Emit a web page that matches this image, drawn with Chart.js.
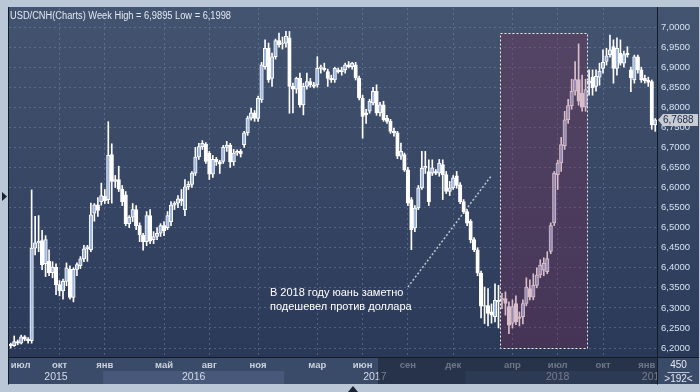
<!DOCTYPE html>
<html>
<head>
<meta charset="utf-8">
<script src="https://cdn.jsdelivr.net/npm/chart.js@4.4.0/dist/chart.umd.min.js"></script>
<style>
html, body { margin: 0; padding: 0; background: #bac7d6; }
#wrap { width: 700px; height: 392px; }
</style>
</head>
<body>
<div id="wrap"><canvas id="fxChart" width="700" height="392"></canvas></div>
<script>
// USD/CNH, weekly candles, first week starts 29.06.2015
const firstWeek = [2015, 5, 29];

const opens = [
  6.209, 6.206, 6.216, 6.212, 6.228, 6.222, 6.218, 6.449, 6.462, 6.468,
  6.410, 6.416, 6.388, 6.402, 6.358, 6.342, 6.366, 6.396, 6.326, 6.396,
  6.405, 6.422, 6.447, 6.445, 6.536, 6.557, 6.565, 6.578, 6.570, 6.682,
  6.615, 6.620, 6.596, 6.582, 6.510, 6.526, 6.545, 6.505, 6.481, 6.465,
  6.530, 6.470, 6.478, 6.486, 6.505, 6.500, 6.515, 6.556, 6.561, 6.572,
  6.545, 6.602, 6.608, 6.636, 6.676, 6.702, 6.708, 6.685, 6.633, 6.670,
  6.664, 6.665, 6.700, 6.706, 6.664, 6.686, 6.690, 6.707, 6.736, 6.773,
  6.786, 6.772, 6.818, 6.901, 6.947, 6.872, 6.926, 6.966, 6.958, 6.960,
  6.973, 6.852, 6.845, 6.872, 6.806, 6.852, 6.864, 6.856, 6.856, 6.897,
  6.897, 6.889, 6.872, 6.868, 6.893, 6.889, 6.893, 6.906, 6.901, 6.906,
  6.873, 6.823, 6.786, 6.790, 6.811, 6.840, 6.786, 6.806, 6.773, 6.765,
  6.740, 6.736, 6.678, 6.682, 6.644, 6.570, 6.499, 6.549, 6.599, 6.648,
  6.640, 6.636, 6.640, 6.636, 6.657, 6.632, 6.590, 6.599, 6.629, 6.607,
  6.565, 6.540, 6.516, 6.470, 6.445, 6.387, 6.304, 6.306, 6.290, 6.278,
  6.315, 6.319, 6.323, 6.303, 6.261, 6.311, 6.278, 6.278, 6.311, 6.348,
  6.327, 6.356, 6.382, 6.394, 6.390, 6.441, 6.512, 6.632, 6.661, 6.704,
  6.769, 6.804, 6.840, 6.869, 6.835, 6.801, 6.860, 6.875, 6.852, 6.875,
  6.897, 6.914, 6.931, 6.951, 6.897, 6.935, 6.910, 6.935, 6.893, 6.868,
  6.926, 6.893, 6.872, 6.868, 6.864, 6.756
];
const highs = [
  6.212, 6.230, 6.220, 6.232, 6.231, 6.226, 6.594, 6.528, 6.530, 6.493,
  6.480, 6.445, 6.415, 6.410, 6.368, 6.372, 6.412, 6.405, 6.400, 6.412,
  6.428, 6.456, 6.456, 6.561, 6.560, 6.575, 6.611, 6.595, 6.764, 6.709,
  6.630, 6.653, 6.605, 6.590, 6.530, 6.560, 6.555, 6.512, 6.486, 6.540,
  6.545, 6.490, 6.500, 6.510, 6.515, 6.540, 6.565, 6.565, 6.580, 6.595,
  6.620, 6.615, 6.640, 6.700, 6.710, 6.717, 6.712, 6.690, 6.680, 6.675,
  6.668, 6.705, 6.715, 6.710, 6.695, 6.694, 6.695, 6.740, 6.778, 6.798,
  6.792, 6.828, 6.912, 6.968, 6.960, 6.935, 6.970, 6.985, 6.975, 6.9895,
  6.989, 6.860, 6.875, 6.885, 6.860, 6.885, 6.872, 6.862, 6.926, 6.905,
  6.910, 6.895, 6.880, 6.900, 6.898, 6.900, 6.910, 6.914, 6.912, 6.912,
  6.878, 6.830, 6.795, 6.820, 6.850, 6.856, 6.812, 6.815, 6.780, 6.770,
  6.748, 6.740, 6.711, 6.686, 6.650, 6.575, 6.555, 6.605, 6.690, 6.690,
  6.669, 6.669, 6.645, 6.670, 6.669, 6.640, 6.615, 6.630, 6.640, 6.612,
  6.570, 6.545, 6.520, 6.475, 6.450, 6.392, 6.352, 6.348, 6.310, 6.360,
  6.356, 6.336, 6.340, 6.315, 6.320, 6.330, 6.290, 6.320, 6.375, 6.370,
  6.385, 6.400, 6.420, 6.425, 6.440, 6.512, 6.640, 6.668, 6.725, 6.790,
  6.820, 6.870, 6.914, 6.958, 6.880, 6.870, 6.893, 6.893, 6.893, 6.910,
  6.943, 6.947, 6.980, 6.968, 6.973, 6.968, 6.940, 6.951, 6.900, 6.930,
  6.930, 6.900, 6.880, 6.875, 6.868, 6.772
];
const lows = [
  6.1998, 6.204, 6.208, 6.210, 6.218, 6.212, 6.212, 6.432, 6.440, 6.395,
  6.378, 6.380, 6.375, 6.333, 6.330, 6.322, 6.355, 6.322, 6.315, 6.380,
  6.398, 6.415, 6.416, 6.440, 6.516, 6.528, 6.556, 6.560, 6.560, 6.561,
  6.600, 6.590, 6.555, 6.505, 6.500, 6.515, 6.495, 6.465, 6.444, 6.455,
  6.460, 6.460, 6.470, 6.478, 6.480, 6.495, 6.505, 6.545, 6.550, 6.555,
  6.530, 6.595, 6.600, 6.630, 6.670, 6.695, 6.660, 6.620, 6.625, 6.655,
  6.635, 6.660, 6.690, 6.650, 6.655, 6.680, 6.676, 6.700, 6.730, 6.768,
  6.765, 6.765, 6.812, 6.895, 6.862, 6.852, 6.920, 6.950, 6.945, 6.950,
  6.785, 6.786, 6.835, 6.800, 6.781, 6.845, 6.850, 6.848, 6.850, 6.885,
  6.890, 6.852, 6.862, 6.862, 6.885, 6.880, 6.885, 6.898, 6.895, 6.868,
  6.818, 6.723, 6.760, 6.785, 6.806, 6.780, 6.778, 6.765, 6.760, 6.735,
  6.728, 6.672, 6.670, 6.640, 6.555, 6.445, 6.490, 6.545, 6.595, 6.635,
  6.555, 6.630, 6.632, 6.628, 6.570, 6.585, 6.580, 6.595, 6.598, 6.560,
  6.535, 6.505, 6.462, 6.440, 6.380, 6.275, 6.261, 6.255, 6.262, 6.265,
  6.250, 6.298, 6.282, 6.236, 6.250, 6.258, 6.255, 6.260, 6.305, 6.320,
  6.320, 6.350, 6.375, 6.380, 6.385, 6.435, 6.505, 6.595, 6.640, 6.695,
  6.760, 6.795, 6.830, 6.805, 6.790, 6.790, 6.830, 6.830, 6.840, 6.855,
  6.885, 6.905, 6.925, 6.860, 6.880, 6.905, 6.900, 6.925, 6.839, 6.860,
  6.885, 6.862, 6.860, 6.852, 6.745, 6.740
];
const closes = [
  6.206, 6.216, 6.212, 6.228, 6.222, 6.218, 6.449, 6.462, 6.466, 6.408,
  6.470, 6.388, 6.402, 6.358, 6.342, 6.366, 6.400, 6.326, 6.396, 6.408,
  6.422, 6.447, 6.452, 6.532, 6.557, 6.543, 6.580, 6.567, 6.680, 6.615,
  6.620, 6.596, 6.565, 6.510, 6.526, 6.545, 6.505, 6.482, 6.465, 6.530,
  6.466, 6.478, 6.486, 6.505, 6.492, 6.530, 6.556, 6.561, 6.572, 6.566,
  6.602, 6.608, 6.636, 6.676, 6.702, 6.710, 6.665, 6.633, 6.670, 6.664,
  6.658, 6.700, 6.706, 6.664, 6.686, 6.690, 6.684, 6.736, 6.773, 6.786,
  6.772, 6.822, 6.906, 6.947, 6.868, 6.926, 6.966, 6.956, 6.960, 6.977,
  6.852, 6.845, 6.872, 6.806, 6.852, 6.864, 6.856, 6.852, 6.897, 6.901,
  6.893, 6.872, 6.868, 6.897, 6.889, 6.893, 6.906, 6.901, 6.910, 6.873,
  6.823, 6.777, 6.781, 6.815, 6.840, 6.786, 6.806, 6.769, 6.765, 6.740,
  6.736, 6.678, 6.690, 6.644, 6.561, 6.495, 6.549, 6.599, 6.648, 6.653,
  6.565, 6.649, 6.636, 6.661, 6.632, 6.590, 6.599, 6.624, 6.605, 6.565,
  6.540, 6.511, 6.470, 6.445, 6.387, 6.304, 6.306, 6.286, 6.282, 6.319,
  6.319, 6.323, 6.311, 6.257, 6.303, 6.265, 6.274, 6.311, 6.352, 6.327,
  6.356, 6.382, 6.407, 6.411, 6.423, 6.505, 6.636, 6.661, 6.707, 6.769,
  6.804, 6.840, 6.869, 6.815, 6.800, 6.844, 6.865, 6.848, 6.877, 6.890,
  6.912, 6.928, 6.943, 6.897, 6.947, 6.910, 6.931, 6.931, 6.873, 6.926,
  6.893, 6.868, 6.866, 6.862, 6.756, 6.7688
];

const monthNames = ['янв', 'фев', 'мар', 'апр', 'май', 'июн', 'июл', 'авг', 'сен', 'окт', 'ноя', 'дек'];
const shownMonths = ['2015-07', '2015-10', '2016-01', '2016-05', '2016-08', '2016-11', '2017-03',
                     '2017-06', '2017-09', '2017-12', '2018-04', '2018-07', '2018-10', '2019-01'];
const yTickValues = [6.20, 6.25, 6.30, 6.35, 6.40, 6.45, 6.50, 6.55, 6.60, 6.65,
                     6.70, 6.75, 6.80, 6.85, 6.90, 6.95, 7.00];
const yRange = [6.1776, 7.0474];

// выделенный период и подпись (в координатах данных: номер недели, курс)
const boxWeeks = [140.5, 165.5];
const boxRates = [6.2, 6.985];
const noteLine = [[114, 6.352], [138.1, 6.631]];
const noteAt = [74.4, 6.337];
const noteText = ['В 2018 году юань заметно', 'подешевел против доллара'];
const counterText = ['450', '>192<'];

const FONT = 'Liberation Sans, Arial, sans-serif';

const weeks = opens.map((_, i) => new Date(Date.UTC(firstWeek[0], firstWeek[1], firstWeek[2] + 7 * i)));
const labels = weeks.map(d => d.toISOString().slice(0, 10));
const lastIdx = weeks.length - 1;
const monthLabelAt = {};
weeks.forEach((d, i) => {
  if (d.getUTCDate() <= 7 && shownMonths.includes(labels[i].slice(0, 7))) {
    // подписи у краёв прижимаются к краю шкалы
    const at = i <= 1 ? 0 : (i >= lastIdx - 1 ? lastIdx : i);
    monthLabelAt[at] = monthNames[d.getUTCMonth()];
  }
});
const fmt = v => v.toFixed(4).replace('.', ',');

const gridColor = 'rgba(125,145,182,0.45)';

const panelPlugin = {
  id: 'panel',
  beforeDraw(chart) {
    const { ctx, chartArea: a, scales: { x } } = chart;
    ctx.save();
    ctx.fillStyle = '#bac7d6';
    ctx.fillRect(0, 0, chart.width, chart.height);
    const g = ctx.createLinearGradient(0, a.top, 0, a.bottom);
    g.addColorStop(0, '#435470');
    g.addColorStop(1, '#2b3958');
    ctx.fillStyle = g;
    ctx.fillRect(a.left - 1, a.top - 1, chart.width - a.left, a.bottom - a.top + 1);
    ctx.fillStyle = '#3a4a69';
    ctx.fillRect(a.left - 1, a.bottom, chart.width - a.left, x.bottom - a.bottom);
    // светлые полосы для чётных лет
    const half = (x.getPixelForValue(1) - x.getPixelForValue(0)) / 2;
    const years = [...new Set(weeks.map(d => d.getUTCFullYear()))];
    years.forEach(yr => {
      if (yr % 2) return;
      const idx = weeks.map((d, i) => d.getUTCFullYear() === yr ? i : -1).filter(i => i >= 0);
      const x0 = x.getPixelForValue(idx[0]) - half;
      const x1 = Math.min(x.getPixelForValue(idx[idx.length - 1]) + half, a.right);
      ctx.fillStyle = '#47587a';
      ctx.fillRect(x0, a.bottom + 14, x1 - x0, x.bottom - a.bottom - 14);
    });
    ctx.restore();
  },
  afterDatasetsDraw(chart) {
    const { ctx, scales: { x, y } } = chart;
    ctx.save();
    const bx0 = x.getPixelForValue(boxWeeks[0]), bx1 = x.getPixelForValue(boxWeeks[1]);
    const by0 = y.getPixelForValue(boxRates[1]), by1 = y.getPixelForValue(boxRates[0]);
    ctx.fillStyle = 'rgba(130,40,80,0.30)';
    ctx.fillRect(bx0, by0, bx1 - bx0, by1 - by0);
    ctx.strokeStyle = 'rgba(255,255,255,0.9)';
    ctx.lineWidth = 1;
    ctx.setLineDash([2, 2]);
    ctx.strokeRect(Math.round(bx0) + 0.5, Math.round(by0) + 0.5, Math.round(bx1 - bx0), Math.round(by1 - by0));
    ctx.strokeStyle = 'rgba(215,220,230,0.85)';
    ctx.lineWidth = 1.5;
    ctx.beginPath();
    ctx.moveTo(x.getPixelForValue(noteLine[0][0]), y.getPixelForValue(noteLine[0][1]));
    ctx.lineTo(x.getPixelForValue(noteLine[1][0]), y.getPixelForValue(noteLine[1][1]));
    ctx.stroke();
    ctx.setLineDash([]);
    ctx.fillStyle = '#ffffff';
    ctx.font = '11px ' + FONT;
    ctx.textBaseline = 'middle';
    const tx = x.getPixelForValue(noteAt[0]), ty = y.getPixelForValue(noteAt[1]);
    noteText.forEach((t, k) => ctx.fillText(t, tx, ty + k * 14));
    ctx.restore();
  },
  afterDraw(chart) {
    const { ctx, chartArea: a, scales: { x, y } } = chart;
    ctx.save();
    // годы
    const years = [...new Set(weeks.map(d => d.getUTCFullYear()))];
    ctx.save();
    ctx.beginPath();
    ctx.rect(a.left, a.bottom, a.right - a.left, x.bottom - a.bottom);
    ctx.clip();
    ctx.font = '10.5px ' + FONT;
    ctx.fillStyle = '#d4dbe6';
    ctx.textAlign = 'center';
    ctx.textBaseline = 'middle';
    years.forEach(yr => {
      const idx = weeks.map((d, i) => d.getUTCFullYear() === yr ? i : -1).filter(i => i >= 0);
      const cx = (x.getPixelForValue(idx[0]) + x.getPixelForValue(idx[idx.length - 1])) / 2;
      ctx.fillText(String(yr), cx, a.bottom + 20);
    });
    ctx.restore();
    // затемнение правой части шкалы времени
    ctx.fillStyle = 'rgba(20,28,46,0.5)';
    ctx.fillRect(378, a.bottom + 1, a.right - 378, x.bottom - a.bottom - 1);
    // рамки
    ctx.strokeStyle = '#131b2b';
    ctx.lineWidth = 1;
    ctx.beginPath();
    ctx.moveTo(a.left - 0.5, a.top - 1); ctx.lineTo(a.left - 0.5, x.bottom + 0.5);
    ctx.moveTo(a.right + 0.5, a.top - 1); ctx.lineTo(a.right + 0.5, x.bottom + 0.5);
    ctx.moveTo(a.left - 1, a.bottom + 0.5); ctx.lineTo(chart.width - 1, a.bottom + 0.5);
    ctx.stroke();
    // текущая цена
    const last = closes[closes.length - 1];
    const py = Math.round(y.getPixelForValue(last));
    ctx.fillStyle = '#c8cdd5';
    ctx.beginPath();
    ctx.moveTo(a.right + 1, py);
    ctx.lineTo(a.right + 6, py - 6);
    ctx.lineTo(chart.width - 2, py - 6);
    ctx.lineTo(chart.width - 2, py + 6);
    ctx.lineTo(a.right + 6, py + 6);
    ctx.closePath();
    ctx.fill();
    ctx.fillStyle = '#1d2842';
    ctx.font = '10px ' + FONT;
    ctx.textBaseline = 'middle';
    ctx.fillText(fmt(last), a.right + 6, py + 0.5);
    // счётчик справа внизу
    ctx.fillStyle = '#e4e9f2';
    ctx.textAlign = 'center';
    const cx = (a.right + chart.width) / 2;
    ctx.fillText(counterText[0], cx, a.bottom + 8);
    ctx.fillText(counterText[1], cx, a.bottom + 22);
    ctx.strokeStyle = '#b8c2d2';
    ctx.beginPath();
    ctx.moveTo(cx - 11, a.bottom + 15.5); ctx.lineTo(cx + 11, a.bottom + 15.5);
    ctx.stroke();
    // маркеры
    ctx.fillStyle = '#1b2332';
    ctx.beginPath();
    ctx.moveTo(2, 192); ctx.lineTo(7, 196.5); ctx.lineTo(2, 201); ctx.closePath();
    ctx.fill();
    ctx.beginPath();
    ctx.moveTo(348, 392); ctx.lineTo(353, 386); ctx.lineTo(358, 392); ctx.closePath();
    ctx.fill();
    // заголовок
    ctx.textAlign = 'left';
    ctx.fillStyle = '#e2e8f1';
    ctx.font = '10px ' + FONT;
    const title = 'USD/CNH(Charts) Week High = ' + fmt(Math.max(...highs)) + ' Low = ' + fmt(Math.min(...lows));
    ctx.fillText(title, a.left + 1, a.top + 8, 221);
    ctx.restore();
  }
};

const isUp = closes.map((c, i) => c >= opens[i]);

const ctx = document.getElementById('fxChart').getContext('2d');
window.fxChart = new Chart(ctx, {
  type: 'bar',
  data: {
    labels: labels,
    datasets: [{
      label: 'body',
      data: opens.map((o, i) => [Math.min(o, closes[i]), Math.max(o, closes[i])]),
      backgroundColor: isUp.map(u => u ? '#9fb6dd' : '#ffffff'),
      borderColor: '#ffffff',
      borderWidth: 1,
      borderSkipped: false,
      barThickness: 3.5,
      grouped: false,
      order: 0
    }, {
      label: 'wick',
      data: lows.map((l, i) => [l, highs[i]]),
      backgroundColor: '#ffffff',
      barThickness: 1,
      grouped: false,
      order: 1
    }]
  },
  options: {
    responsive: false,
    animation: false,
    devicePixelRatio: 1,
    events: [],
    layout: { padding: { left: 9, top: 8, right: 1, bottom: 8 } },
    plugins: { legend: { display: false }, tooltip: { enabled: false } },
    scales: {
      x: {
        type: 'category',
        offset: true,
        grid: {
          offset: false,
          drawTicks: false,
          color: c => (monthLabelAt[c.index] && c.index > 0 && c.index < lastIdx) ? gridColor : 'transparent'
        },
        border: { display: false, dash: [2, 3] },
        ticks: {
          autoSkip: false,
          maxRotation: 0,
          minRotation: 0,
          align: 'inner',
          padding: 3,
          color: '#c9d0dc',
          font: { family: FONT, size: 9.5, weight: 'bold' },
          callback: (v, i) => monthLabelAt[i] || ''
        },
        afterFit: s => { s.height = 27; s.paddingLeft = 0; s.paddingRight = 0; }
      },
      y: {
        position: 'right',
        min: yRange[0],
        max: yRange[1],
        bounds: 'data',
        afterBuildTicks: s => { s.ticks = yTickValues.map(v => ({ value: v })); },
        grid: { color: gridColor, drawTicks: false },
        border: { display: false, dash: [2, 3] },
        ticks: {
          padding: 4,
          crossAlign: 'near',
          color: '#d3e1f3',
          font: { family: FONT, size: 9.5 },
          callback: v => fmt(v)
        },
        afterFit: s => { s.width = 42; s.paddingTop = 0; s.paddingBottom = 0; }
      }
    }
  },
  plugins: [panelPlugin]
});
</script>
</body>
</html>
